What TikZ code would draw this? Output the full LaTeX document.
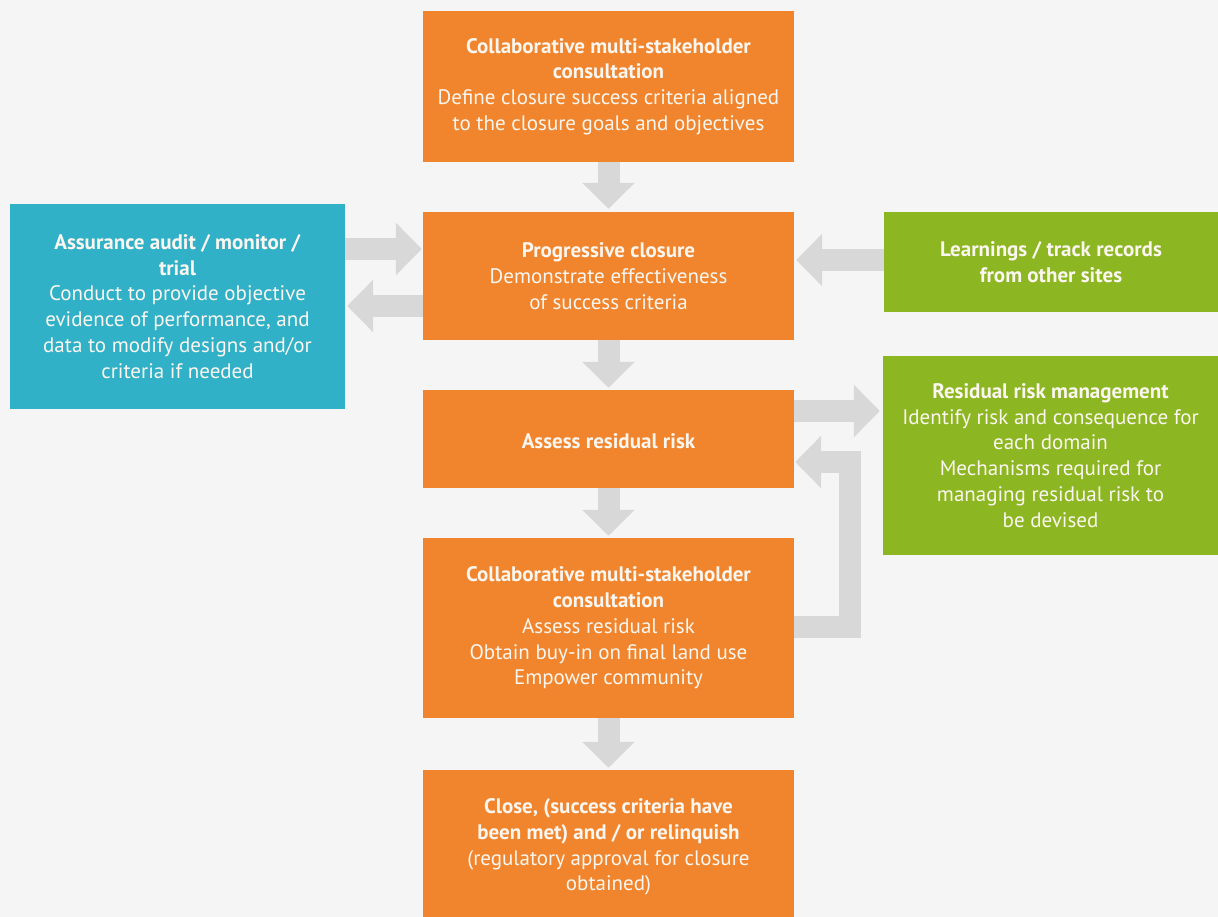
\documentclass[tikz,border=0pt]{standalone}
\usepackage{fontspec}
\setmainfont{PT Sans}
\usetikzlibrary{arrows.meta}
\definecolor{bg}{HTML}{F5F5F5}
\definecolor{org}{HTML}{F0852D}
\definecolor{blu}{HTML}{31B1C7}
\definecolor{grn}{HTML}{8CB722}
\definecolor{arr}{HTML}{D8D8D8}
\definecolor{txt}{HTML}{FBF6F0}
\begin{document}
\begin{tikzpicture}[x=1pt,y=-1pt,
  box/.style={rectangle, inner sep=0pt, text=txt, align=center,
    font=\fontsize{21}{25.8}\selectfont,
    execute at begin node={\rule{0pt}{19.5pt}}},
  obox/.style={box, fill=org, minimum width=371pt},
  garrow/.style={draw=arr, line width=22pt, line join=miter,
    -{Triangle[length=26pt,width=51pt]}}]
\fill[bg] (0,0) rectangle (1218,917);
\useasboundingbox (0,0) rectangle (1218,917);

\node[obox, minimum height=151pt] (top) at (608.5,86.5)
  {\textbf{Collaborative multi-stakeholder}\\\textbf{consultation}\\Define closure success criteria aligned\\to the closure goals and objectives};
\node[obox, minimum height=128pt] (prog) at (608.5,276)
  {\textbf{Progressive closure}\\Demonstrate effectiveness\\of success criteria};
\node[obox, minimum height=98pt] (assess) at (608.5,439)
  {\textbf{Assess residual risk}};
\node[obox, minimum height=180pt] (cons) at (608.5,628)
  {\textbf{Collaborative multi-stakeholder}\\\textbf{consultation}\\Assess residual risk\\Obtain buy-in on final land use\\Empower community};
\node[obox, minimum height=154pt] (close) at (608.5,847)
  {\textbf{Close, (success criteria have}\\\textbf{been met) and / or relinquish}\\(regulatory approval for closure\\obtained)};
\node[box, fill=blu, minimum width=335pt, minimum height=205pt] (assur) at (177.5,306.5)
  {\textbf{Assurance audit / monitor /}\\\textbf{trial}\\Conduct to provide objective\\evidence of performance, and\\data to modify designs and/or\\criteria if needed};
\node[box, fill=grn, minimum width=334pt, minimum height=100pt] (learn) at (1051,262)
  {\textbf{Learnings / track records}\\\textbf{from other sites}};
\node[box, fill=grn, minimum width=335pt, minimum height=199pt] (resid) at (1050.5,455.5)
  {\textbf{Residual risk management}\\Identify risk and consequence for\\each domain\\Mechanisms required for\\managing residual risk to\\be devised};

\draw[garrow, shorten >=3pt] (top) -- (prog);
\draw[garrow, shorten >=2pt] (prog) -- (assess);
\draw[garrow, shorten >=2pt] (assess) -- (cons);
\draw[garrow, shorten >=2pt] (cons) -- (close);

\draw[garrow, shorten >=1pt] (assur.east |- 0,249) -- (prog.west |- 0,249);
\draw[garrow, shorten >=2pt] (prog.west |- 0,306) -- (assur.east |- 0,306);
\draw[garrow, shorten >=2pt] (learn.west |- 0,260) -- (prog.east |- 0,260);
\draw[garrow, shorten >=3pt] (assess.east |- 0,411) -- (resid.west |- 0,411);
\coordinate (b1) at (850,627);
\coordinate (b2) at (850,462);
\draw[garrow, shorten >=1pt] (cons.east |- b1) -- (b1) -- (b2) -- (assess.east |- b2);
\end{tikzpicture}
\end{document}
